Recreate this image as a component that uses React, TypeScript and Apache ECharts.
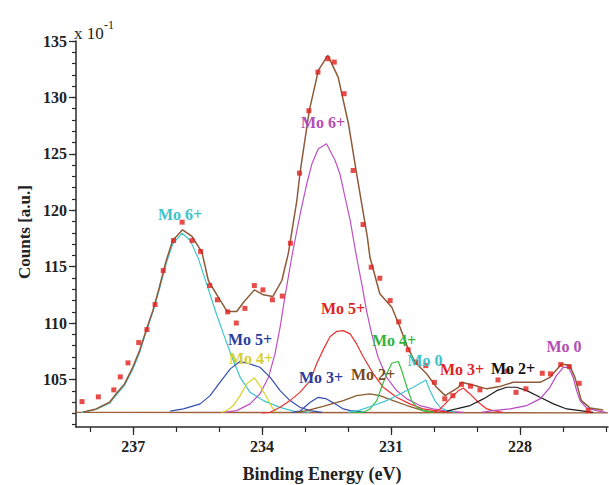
import React, { useEffect, useRef } from "react";
import * as echarts from "echarts";

// ---- data (binding energy eV, counts x10^-1) ----
const measured: number[][] = [
  [238.19, 103.05], [237.81, 103.47], [237.45, 104.09], [237.3, 105.24], [237.12, 106.48],
  [236.87, 108.28], [236.68, 109.43], [236.49, 111.65], [236.3, 114.66], [236.06, 117.32],
  [235.86, 118.95], [235.63, 117.32], [235.43, 116.35], [235.22, 113.33], [235.04, 112.07],
  [234.8, 111.0], [234.6, 110.01], [234.4, 111.31], [234.18, 113.33], [233.98, 112.95],
  [233.76, 112.07], [233.53, 112.4], [233.34, 117.08], [233.13, 123.29], [232.91, 128.82],
  [232.7, 132.24], [232.47, 133.43], [232.32, 133.13], [232.09, 130.33], [231.88, 123.53],
  [231.65, 118.74], [231.46, 114.96], [231.26, 113.98], [231.02, 112.0], [230.82, 110.12],
  [230.6, 107.64], [230.42, 106.55], [230.19, 106.24], [229.99, 104.76], [229.75, 103.3],
  [229.56, 103.58], [229.36, 104.58], [229.15, 104.42], [228.93, 104.09], [228.51, 104.97],
  [228.3, 105.75], [228.09, 103.87], [227.86, 104.18], [227.48, 105.56], [227.29, 105.51],
  [227.05, 106.33], [226.85, 106.15], [226.62, 104.67], [226.41, 102.25],
];

const envelope: number[][] = [
  [238.17, 102.1], [237.86, 102.4], [237.55, 102.99], [237.4, 103.73], [237.2, 104.62],
  [237.01, 106.09], [236.85, 107.57], [236.7, 109.34], [236.54, 111.12], [236.39, 113.18],
  [236.23, 115.55], [236.08, 117.32], [235.85, 118.27], [235.63, 117.68], [235.4, 116.29],
  [235.25, 113.78], [235.02, 112.3], [234.81, 111.03], [234.59, 111.03], [234.43, 111.85],
  [234.18, 112.95], [233.97, 112.51], [233.75, 112.36], [233.54, 113.78], [233.39, 116.17],
  [233.19, 120.87], [233.12, 123.24], [232.9, 128.85], [232.69, 132.39], [232.47, 133.72],
  [232.23, 131.8], [231.99, 127.67], [231.8, 123.24], [231.55, 117.62], [231.49, 115.84],
  [231.26, 112.6], [230.98, 111.41], [230.79, 109.64], [230.63, 108.01], [230.44, 106.53],
  [230.17, 105.51], [229.94, 104.32], [229.74, 103.58], [229.43, 104.32], [229.36, 104.76],
  [229.05, 104.47], [228.77, 104.18], [228.47, 104.38], [228.16, 104.76], [227.53, 104.76],
  [227.3, 105.2], [227.03, 106.39], [226.84, 106.24], [226.72, 105.2], [226.57, 103.14],
  [226.37, 102.49], [226.06, 102.31],
];

const baseline: number[][] = [[238.33, 102.1], [225.95, 102.05]];

const mo6Cyan: number[][] = [
  [238.2, 102.1], [237.86, 102.35], [237.55, 102.9], [237.4, 103.6], [237.2, 104.5],
  [237.01, 105.9], [236.85, 107.4], [236.7, 109.2], [236.54, 111.0], [236.39, 113.0],
  [236.23, 115.3], [236.08, 117.0], [235.86, 117.97], [235.67, 117.32], [235.48, 115.7],
  [235.29, 113.48], [235.09, 111.12], [234.9, 109.05], [234.7, 106.98], [234.51, 105.2],
  [234.28, 103.87], [233.97, 103.14], [233.58, 102.54], [233.27, 102.2], [232.9, 102.1],
];

const mo6Magenta: number[][] = [
  [234.91, 102.1], [234.59, 102.25], [234.28, 102.85], [234.05, 103.73], [233.85, 105.2],
  [233.7, 107.28], [233.58, 109.64], [233.47, 112.3], [233.39, 114.07], [233.31, 115.84],
  [233.19, 118.21], [233.08, 120.28], [232.96, 122.35], [232.84, 124.12], [232.69, 125.45],
  [232.5, 125.89], [232.3, 124.41], [232.19, 123.24], [232.07, 121.16], [231.95, 119.1],
  [231.8, 115.84], [231.68, 113.48], [231.57, 111.12], [231.45, 109.05], [231.3, 106.98],
  [231.1, 105.2], [230.87, 104.03], [230.63, 103.29], [230.33, 102.7], [230.02, 102.41],
  [229.7, 102.2], [229.3, 102.1],
];

const mo5Blue: number[][] = [
  [236.14, 102.2], [235.83, 102.4], [235.44, 102.85], [235.21, 103.58], [234.98, 104.76],
  [234.74, 105.95], [234.51, 106.62], [234.28, 106.38], [234.05, 106.09], [233.81, 105.2],
  [233.58, 104.02], [233.35, 103.14], [233.12, 102.55], [232.88, 102.25], [232.6, 102.1],
];

const mo4Yellow: number[][] = [
  [234.95, 102.1], [234.82, 102.25], [234.67, 102.7], [234.51, 103.58], [234.36, 104.62],
  [234.18, 105.15], [234.05, 104.47], [233.89, 103.43], [233.77, 102.55], [233.66, 102.1],
];

const mo5Red: number[][] = [
  [234.0, 102.05], [233.81, 102.1], [233.58, 102.55], [233.35, 103.14], [233.12, 103.87],
  [232.88, 104.91], [232.73, 106.4], [232.57, 107.7], [232.42, 108.8], [232.26, 109.28],
  [232.11, 109.34], [231.95, 109.05], [231.8, 108.16], [231.64, 106.98], [231.41, 105.51],
  [231.18, 104.32], [230.87, 103.43], [230.56, 102.85], [230.25, 102.4], [229.9, 102.2],
  [229.5, 102.1],
];

const mo3Blue: number[][] = [
  [233.3, 102.1], [233.12, 102.2], [232.88, 102.99], [232.69, 103.43], [232.5, 103.29],
  [232.3, 102.85], [232.11, 102.4], [231.95, 102.25], [231.6, 102.1],
];

const mo2Brown: number[][] = [
  [233.2, 102.1], [232.96, 102.25], [232.6, 102.6], [232.11, 103.14], [231.8, 103.58],
  [231.49, 103.73], [231.26, 103.58], [230.95, 103.14], [230.63, 102.7], [230.25, 102.25],
  [229.9, 102.1],
];

const mo4Green: number[][] = [
  [231.9, 102.1], [231.64, 102.1], [231.49, 102.4], [231.33, 103.14], [231.22, 104.32],
  [231.1, 105.51], [230.98, 106.45], [230.83, 106.6], [230.75, 105.8], [230.63, 104.32],
  [230.52, 103.14], [230.4, 102.55], [230.25, 102.25], [230.0, 102.1],
];

const mo0Cyan: number[][] = [
  [232.0, 102.1], [231.72, 102.3], [231.41, 102.7], [231.1, 103.14], [230.79, 103.73],
  [230.48, 104.32], [230.19, 104.97], [230.09, 104.02], [229.98, 103.14], [229.86, 102.55],
  [229.7, 102.25], [229.5, 102.1],
];

const mo3Red: number[][] = [
  [230.0, 102.1], [229.86, 102.4], [229.75, 102.8], [229.63, 103.29], [229.43, 104.02],
  [229.32, 104.26], [229.16, 103.73], [228.97, 102.99], [228.77, 102.4], [228.62, 102.25],
  [228.4, 102.1],
];

const mo2Black: number[][] = [
  [229.7, 102.2], [229.48, 102.4], [229.16, 102.7], [228.85, 103.29], [228.54, 104.02],
  [228.31, 104.32], [228.08, 104.32], [227.84, 104.02], [227.53, 103.43], [227.22, 102.85],
  [226.91, 102.4], [226.6, 102.25], [226.3, 102.1],
];

const mo0Magenta: number[][] = [
  [228.9, 102.1], [228.62, 102.25], [228.23, 102.4], [227.84, 102.7], [227.53, 103.29],
  [227.3, 104.32], [227.15, 105.35], [226.99, 106.09], [226.87, 106.09], [226.76, 105.2],
  [226.68, 104.02], [226.6, 103.14], [226.45, 102.49], [226.22, 102.25], [226.0, 102.1],
];

const yMajorTicks = [105, 110, 115, 120, 125, 130, 135];
const yMinorTicks = [101, 102, 103, 104, 105, 106, 107, 108, 109, 110, 111, 112, 113, 114, 115, 116, 117, 118, 119, 120, 121, 122, 123, 124, 125, 126, 127, 128, 129, 130, 131, 132, 133, 134, 135];
const xMajorTicks = [228, 231, 234, 237];
const xMinorTicks = [226, 227, 228, 229, 230, 231, 232, 233, 234, 235, 236, 237, 238];

const peakLabels = ["Mo 6+", "Mo 6+", "Mo 5+", "Mo 4+", "Mo 3+", "Mo 2+", "Mo 5+", "Mo 4+", "Mo 0", "Mo 3+", "Mo 2+", "Mo 0"];

const FONT = "'Liberation Serif', 'Times New Roman', serif";

export default function App() {
  const ref = useRef<HTMLDivElement>(null);
  useEffect(() => {
    if (!ref.current) return;
    const chart = echarts.init(ref.current, null, { renderer: "svg" });
    const Y_MIN = 100.8, Y_MAX = 135, X_MIN = 225.95, X_MAX = 238.33;
    const axisColor = "#2a2a2a";
    const line = (data: number[][], color: string, width = 1.2, z = 2) => ({
      type: "line", data, showSymbol: false, symbol: "none", z,
      lineStyle: { color, width }, silent: true,
    });
    const labelPos = [
      [180, 214, "#3ec3c9"], [323, 122, "#b24db5"], [250, 339, "#2b3d9c"], [251, 358, "#d6d035"],
      [321, 377, "#2b3d9c"], [373, 374, "#7a4a22"], [343, 308, "#e02424"], [394, 340, "#33b23a"],
      [425, 360, "#3ec3c9"], [462, 369, "#e02424"], [513, 368, "#111111"], [564, 346, "#b24db5"],
    ];
    const graphics: any[] = peakLabels.map((t, i) => ({
      type: "text", x: labelPos[i][0], y: labelPos[i][1], z: 10,
      style: { text: t, fill: labelPos[i][2], font: `bold 16px ${FONT}`, align: "center", verticalAlign: "middle" },
    }));
    graphics.push(
      { type: "text", x: 74, y: 33, style: { text: "x 10", fill: "#222", font: `17px ${FONT}`, align: "left", verticalAlign: "middle" } },
      { type: "text", x: 104, y: 25, style: { text: "-1", fill: "#222", font: `12px ${FONT}`, align: "left", verticalAlign: "middle" } },
      { type: "text", x: 322, y: 474, style: { text: "Binding Energy (eV)", fill: "#222", font: `bold 18px ${FONT}`, align: "center", verticalAlign: "middle" } },
      { type: "text", x: 24, y: 232, rotation: Math.PI / 2, style: { text: "Counts [a.u.]", fill: "#222", font: `bold 17px ${FONT}`, align: "center", verticalAlign: "middle" } },
    );
    chart.setOption({
      animation: false,
      backgroundColor: "#ffffff",
      grid: { left: 76, right: 1, top: 41, bottom: 58, containLabel: false },
      xAxis: [
        {
          type: "value", inverse: true, min: X_MIN, max: X_MAX, position: "bottom",
          axisLine: { show: true, lineStyle: { color: axisColor, width: 1.5 } },
          axisTick: { show: true, length: 5, customValues: xMinorTicks, lineStyle: { color: axisColor, width: 1.2 } },
          axisLabel: { show: false },
          splitLine: { show: false },
        },
        {
          type: "value", inverse: true, min: X_MIN, max: X_MAX, position: "bottom",
          axisLine: { show: false },
          axisTick: { show: true, length: 8, customValues: xMajorTicks, lineStyle: { color: axisColor, width: 1.2 } },
          axisLabel: { show: true, customValues: xMajorTicks, margin: 11, color: "#222", fontFamily: FONT, fontWeight: "bold", fontSize: 16 },
          splitLine: { show: false },
        },
      ],
      yAxis: [
        {
          type: "value", min: Y_MIN, max: Y_MAX, position: "left",
          axisLine: { show: true, lineStyle: { color: axisColor, width: 1.5 } },
          axisTick: { show: true, length: 4, customValues: yMinorTicks, lineStyle: { color: axisColor, width: 1.2 } },
          axisLabel: { show: false },
          splitLine: { show: false },
        },
        {
          type: "value", min: Y_MIN, max: Y_MAX, position: "left",
          axisLine: { show: false },
          axisTick: { show: true, length: 7, customValues: yMajorTicks, lineStyle: { color: axisColor, width: 1.2 } },
          axisLabel: {
            show: true, customValues: yMajorTicks, margin: 9, color: "#222", fontFamily: FONT,
            fontWeight: "bold", fontSize: 16, verticalAlign: "middle", padding: [0, 0, 12, 0],
          },
          splitLine: { show: false },
        },
      ],
      series: [
        line(baseline, "#a0603a", 1.4, 1),
        line(mo6Cyan, "#3fc6cc"),
        line(mo6Magenta, "#c050c0"),
        line(mo5Blue, "#3550b0"),
        line(mo4Yellow, "#d8d42a"),
        line(mo5Red, "#e83232"),
        line(mo3Blue, "#3550b0"),
        line(mo2Brown, "#8b5a2b"),
        line(mo4Green, "#33c03f"),
        line(mo0Cyan, "#3fc6d0"),
        line(mo3Red, "#e83232"),
        line(mo2Black, "#1e1e1e"),
        line(mo0Magenta, "#b848c0"),
        line(envelope, "#8e5a3a", 1.5, 3),
        {
          type: "scatter", data: measured, symbol: "rect", symbolSize: 5, z: 4,
          itemStyle: { color: "#e0201c" }, silent: true,
        },
      ],
      graphic: graphics,
    });
    return () => chart.dispose();
  }, []);
  return (
    <div
      ref={ref}
      style={{ position: "fixed", left: 0, top: 0, width: 609, height: 485, background: "#fff" }}
    />
  );
}
